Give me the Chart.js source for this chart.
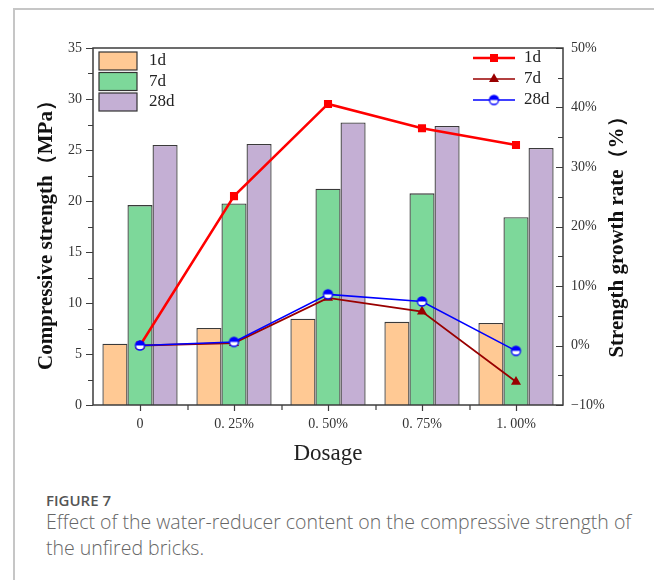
<!DOCTYPE html>
<html>
<head>
<meta charset="utf-8">
<script src="https://cdn.jsdelivr.net/npm/chart.js@4.4.0/dist/chart.umd.min.js"></script>
<style>
  html, body { margin: 0; padding: 0; background: #fff; }
  body { width: 654px; height: 580px; position: relative; overflow: hidden; font-family: "Open Sans", "Noto Sans", sans-serif; }
  .card { position: absolute; left: 13px; top: 8px; width: 700px; height: 600px; border-left: 2px solid #c6c6c6; border-top: 2px solid #c6c6c6; }
  #strengthChart { position: absolute; left: 0; top: 0; }
  .fig-label { position: absolute; left: 46px; top: 490px; font-size: 15px; line-height: 20px; color: #555; font-weight: 600; }
  .fig-caption { position: absolute; left: 46px; top: 509px; font-size: 19.5px; line-height: 26px; color: #666; white-space: nowrap; font-weight: 300; }
</style>
</head>
<body>
<div class="card"></div>
<canvas id="strengthChart" width="654" height="470"></canvas>
<div class="fig-label">FIGURE 7</div>
<div class="fig-caption">Effect of the water-reducer content on the compressive strength of<br>the unfired bricks.</div>
<script>
const dosages = ['0', '0. 25%', '0. 50%', '0. 75%', '1. 00%'];

// compressive strength, MPa
const strength1d = [6.0, 7.55, 8.45, 8.15, 8.05];
const strength7d = [19.6, 19.75, 21.2, 20.75, 18.4];
const strength28d = [25.5, 25.6, 27.7, 27.35, 25.2];

// strength growth rate vs. no reducer, %
const growth1d = [0, 25.1, 40.6, 36.5, 33.7];
const growth7d = [0, 0.4, 8.0, 5.7, -6.1];
const growth28d = [0, 0.6, 8.6, 7.4, -0.9];

const ageLabels = ['1d', '7d', '28d'];
const barColors = ['#ffc994', '#7dd89a', '#c4afd4'];
const lineColors = ['#ff0000', '#990000', '#0000ff'];

const serif = '"Liberation Serif", "DejaVu Serif", serif';

// circle with the top half filled, bottom half white
function halfCircle(r, color) {
    const size = Math.ceil(r * 2 + 4);
    const c = document.createElement('canvas');
    c.width = size; c.height = size;
    const g = c.getContext('2d');
    const m = size / 2;
    g.fillStyle = '#fff';
    g.beginPath(); g.arc(m, m, r, 0, Math.PI * 2); g.fill();
    g.fillStyle = color;
    g.beginPath(); g.arc(m, m, r, Math.PI, 0); g.closePath(); g.fill();
    g.strokeStyle = color; g.lineWidth = 1.3;
    g.beginPath(); g.arc(m, m, r, 0, Math.PI * 2); g.stroke();
    return c;
}
const halfDot = halfCircle(4.5, lineColors[2]);

function drawMarker(ctx, i, x, y) {
    ctx.fillStyle = lineColors[i];
    if (i === 0) {
        ctx.fillRect(x - 4, y - 4, 8, 8);
    } else if (i === 1) {
        const r = 5.8;
        ctx.beginPath();
        ctx.moveTo(x, y - r);
        ctx.lineTo(x + r * Math.sin(Math.PI * 2 / 3), y + r / 2);
        ctx.lineTo(x - r * Math.sin(Math.PI * 2 / 3), y + r / 2);
        ctx.closePath();
        ctx.fill();
    } else {
        ctx.drawImage(halfDot, x - halfDot.width / 2, y - halfDot.height / 2);
    }
}

// frame, minor ticks, both legends and the vertical titles
const decorPlugin = {
    id: 'decor',
    afterDraw(chart) {
        const { ctx, chartArea: a, scales } = chart;
        ctx.save();
        ctx.strokeStyle = '#3c3c3c';
        ctx.lineWidth = 1.5;
        ctx.strokeRect(a.left, a.top, a.right - a.left, a.bottom - a.top);

        ctx.beginPath();
        for (let v = 0; v <= 35; v += 2.5) {
            const y = Math.round(scales.y.getPixelForValue(v)) + 0.5;
            const len = v % 5 === 0 ? 7 : 5;
            ctx.moveTo(a.left - len, y); ctx.lineTo(a.left, y);
        }
        for (let v = -10; v <= 50; v += 5) {
            const y = Math.round(scales.y1.getPixelForValue(v)) + 0.5;
            const len = v % 10 === 0 ? 7 : 5;
            ctx.moveTo(a.right - len, y); ctx.lineTo(a.right, y);
        }
        const xs = scales.x;
        const step = xs.getPixelForValue(1) - xs.getPixelForValue(0);
        for (let i = 0; i < dosages.length; i++) {
            const cx = Math.round(xs.getPixelForValue(i)) + 0.5;
            ctx.moveTo(cx, a.bottom); ctx.lineTo(cx, a.bottom + 6);
            if (i < dosages.length - 1) {
                const bx = Math.round(cx + step / 2);
                ctx.moveTo(bx, a.bottom); ctx.lineTo(bx, a.bottom + 5);
            }
        }
        ctx.lineWidth = 1.2;
        ctx.stroke();

        // bar legend, top left
        ctx.font = '17px ' + serif;
        ctx.textBaseline = 'middle';
        ctx.textAlign = 'left';
        ageLabels.forEach((lab, i) => {
            const y = 52 + i * 20.5;
            ctx.fillStyle = barColors[i];
            ctx.fillRect(99, y, 38, 18);
            ctx.strokeStyle = '#333';
            ctx.lineWidth = 1.2;
            ctx.strokeRect(99, y, 38, 18);
            ctx.fillStyle = '#222';
            ctx.fillText(lab, 149, y + 9);
        });

        // line legend, top right
        ageLabels.forEach((lab, i) => {
            const y = 58 + i * 21;
            ctx.strokeStyle = lineColors[i];
            ctx.lineWidth = i === 0 ? 2.5 : 1.6;
            ctx.beginPath(); ctx.moveTo(473, y); ctx.lineTo(515, y); ctx.stroke();
            drawMarker(ctx, i, 494, y);
            ctx.fillStyle = '#222';
            ctx.fillText(lab, 524, y);
        });

        // axis titles, both read bottom to top
        ctx.font = 'bold 21px ' + serif;
        ctx.fillStyle = '#111';
        ctx.textAlign = 'center';
        ctx.translate(47, 230);
        ctx.rotate(-Math.PI / 2);
        ctx.fillText('Compressive strength（MPa）', 0, 0);
        ctx.setTransform(1, 0, 0, 1, 0, 0);
        ctx.translate(618, 232);
        ctx.rotate(-Math.PI / 2);
        ctx.fillText('Strength growth rate（%）', 0, 0);
        ctx.restore();
    }
};

const tickFont = { family: serif, size: 14 };

new Chart(document.getElementById('strengthChart'), {
    type: 'bar',
    data: {
        labels: dosages,
        datasets: [
            { type: 'line', label: '1d', data: growth1d, yAxisID: 'y1', order: 3,
              borderColor: lineColors[0], backgroundColor: lineColors[0], borderWidth: 2.5,
              pointStyle: 'rect', pointRadius: 5.7, pointBorderWidth: 0 },
            { type: 'line', label: '7d', data: growth7d, yAxisID: 'y1', order: 2,
              borderColor: lineColors[1], backgroundColor: lineColors[1], borderWidth: 1.8,
              pointStyle: 'triangle', pointRadius: 5.8, pointBorderWidth: 0 },
            { type: 'line', label: '28d', data: growth28d, yAxisID: 'y1', order: 1,
              borderColor: lineColors[2], backgroundColor: lineColors[2], borderWidth: 1.6,
              pointStyle: halfDot, pointRadius: 5 },
            { label: '1d', data: strength1d, yAxisID: 'y', order: 10,
              backgroundColor: barColors[0], borderColor: '#3a3a3a', borderWidth: 1.3 },
            { label: '7d', data: strength7d, yAxisID: 'y', order: 10,
              backgroundColor: barColors[1], borderColor: '#3a3a3a', borderWidth: 1.3 },
            { label: '28d', data: strength28d, yAxisID: 'y', order: 10,
              backgroundColor: barColors[2], borderColor: '#3a3a3a', borderWidth: 1.3 }
        ]
    },
    options: {
        responsive: false,
        animation: false,
        layout: { padding: { top: 48, left: 0, right: 0, bottom: 0 } },
        datasets: { bar: { categoryPercentage: 0.8, barPercentage: 1.0 } },
        plugins: { legend: { display: false }, tooltip: { enabled: false } },
        scales: {
            x: {
                offset: true,
                grid: { display: false, drawTicks: false },
                border: { display: false },
                ticks: { font: tickFont, color: '#333', padding: 11, maxRotation: 0 },
                title: { display: true, text: 'Dosage', font: { family: serif, size: 23 }, color: '#222',
                         padding: { top: 0, bottom: 2 } },
                afterFit: s => { s.height = 65; }
            },
            y: {
                position: 'left',
                min: 0, max: 35,
                grid: { display: false, drawTicks: false },
                border: { display: false },
                ticks: { stepSize: 5, font: tickFont, color: '#333', padding: 11 },
                afterFit: s => { s.width = 93; }
            },
            y1: {
                position: 'right',
                min: -10, max: 50,
                grid: { display: false, drawTicks: false },
                border: { display: false },
                ticks: { stepSize: 10, font: tickFont, color: '#333', padding: 8,
                         callback: v => (v < 0 ? '−' + (-v) : v) + '%' },
                afterFit: s => { s.width = 91; }
            }
        }
    },
    plugins: [decorPlugin]
});
</script>
</body>
</html>
